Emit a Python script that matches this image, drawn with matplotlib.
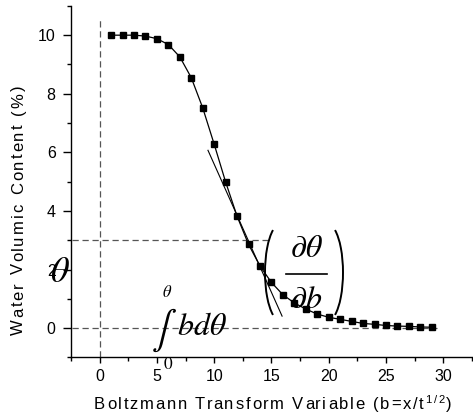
import matplotlib
matplotlib.use("Agg")
import matplotlib.pyplot as plt
from matplotlib.transforms import IdentityTransform
from matplotlib.patches import Arc
from matplotlib.lines import Line2D
import numpy as np

# ---- data ----
b_values = list(range(1, 30))
theta_values = [10.0, 10.0, 10.0, 9.97, 9.88, 9.68, 9.26, 8.55, 7.52, 6.28,
                4.99, 3.82, 2.86, 2.12, 1.56, 1.14, 0.86, 0.65, 0.48, 0.37,
                0.30, 0.23, 0.16, 0.13, 0.09, 0.07, 0.06, 0.04, 0.03]
tangent_b = [9.46, 15.93]
tangent_theta = [6.07, 0.41]
ref_theta_level = 3.0
ref_theta_end_b = 14.9
zero_line_end_b = 29.5
x_ticks = [0, 5, 10, 15, 20, 25, 30]
y_ticks = [0, 2, 4, 6, 8, 10]
x_label_parts = [("Boltzmann Transform Variable (b=x/t", 12, 0), ("1/2", 8, 6), (")", 12, 0)]
y_label_parts = [("Water Volumic Content (%)", 12, 0)]

plt.rcParams['font.family'] = ['Liberation Sans', 'DejaVu Sans']
plt.rcParams['mathtext.fontset'] = 'stix'

W, H = 473, 420
fig = plt.figure(figsize=(W / 100, H / 100), dpi=100)
ax = fig.add_axes([71 / W, 0.149, 1 - 71 / W, 0.986 - 0.149])
ax.set_xlim(-2.4, 32.6)
ax.set_ylim(-1, 11)

dash = dict(color='#555555', lw=0.9, ls=(0, (5, 3)))
ax.plot([0, 0], [-1, 10.6], **dash)
ax.plot([-2.4, zero_line_end_b], [0, 0], **dash)
ax.plot([-2.4, ref_theta_end_b], [ref_theta_level, ref_theta_level], **dash)

ax.plot(b_values, theta_values, color='black', lw=0.9, marker='s',
        markersize=5, markerfacecolor='black', markeredgecolor='black', zorder=3)
ax.plot(tangent_b, tangent_theta, color='black', lw=0.8, zorder=2)

for s in ['top', 'right']:
    ax.spines[s].set_visible(False)
for s in ['left', 'bottom']:
    ax.spines[s].set_linewidth(1.0)

ax.set_xticks(x_ticks)
ax.set_yticks(y_ticks)
ax.set_xticks(np.arange(-2.5, 33, 2.5), minor=True)
ax.set_yticks(np.arange(-1, 11.5, 1), minor=True)
ax.tick_params(axis='x', which='major', direction='out', length=4.5, width=1, labelsize=11.5, pad=3.5)
ax.tick_params(axis='y', which='major', direction='out', length=5.5, width=1, labelsize=11.5, pad=5.5)
ax.tick_params(which='minor', direction='out', length=3, width=1)

# ---- letter-spaced axis labels (drawn in pixel coordinates) ----
ident = IdentityTransform()
renderer = fig.canvas.get_renderer()


def text_w(s, fs):
    t = fig.text(0, 0, s, fontsize=fs, transform=ident)
    w = t.get_window_extent(renderer).width
    t.remove()
    return w


def spaced_label(parts, center, baseline, target_len, rotation=0):
    layout = []
    pen = 0.0
    for txt, fs, rise in parts:
        base = text_w('||', fs)
        for i, ch in enumerate(txt):
            off = text_w('|' + txt[:i] + '|', fs) - base
            layout.append([ch, fs, rise, pen + off])
        pen += text_w('|' + txt + '|', fs) - base
    n = len(layout)
    spacing = max(0.0, (target_len - pen) / (n - 1))
    total = pen + spacing * (n - 1)
    for i, item in enumerate(layout):
        item[3] += i * spacing
    start = center - total / 2
    for ch, fs, rise, pos in layout:
        if ch == ' ':
            continue
        if rotation == 0:
            fig.text(start + pos, baseline + rise, ch, fontsize=fs, transform=ident,
                     ha='left', va='baseline', color='black')
        else:
            fig.text(baseline - rise, start + pos, ch, fontsize=fs, transform=ident,
                     ha='left', va='baseline', rotation=90, rotation_mode='anchor',
                     color='black')


spaced_label(x_label_parts, center=273, baseline=H - 409, target_len=358)
spaced_label(y_label_parts, center=H - 210, baseline=23, target_len=250, rotation=90)

# ---- math annotations ----
ax.text(-3.5, 1.9, r'$\theta$', fontsize=26, ha='center', va='center', clip_on=False)

fig.text(164, H - 330, r'$\int$', fontsize=27, transform=ident, ha='center', va='center')
fig.text(167, H - 292, r'$\theta$', fontsize=12, transform=ident, ha='center', va='center')
fig.text(168, H - 364, r'$\mathrm{0}$', fontsize=12.5, transform=ident, ha='center', va='center')
fig.text(177, H - 335, r'$bd\theta$', fontsize=23, transform=ident, ha='left', va='baseline')

fig.text(306.5, H - 249, r'$\partial\theta$', fontsize=23, transform=ident, ha='center', va='center')
fig.text(306.5, H - 300, r'$\partial b$', fontsize=23, transform=ident, ha='center', va='center')
fig.add_artist(Line2D([286, 327], [H - 274.3, H - 274.3], transform=ident, color='black', lw=1.2))


def paren_arc(cx, cy, w, h, t1, t2):
    a, b = w / 2, h / 2
    ang1 = np.degrees(np.arctan2(b * np.sin(np.radians(t1)), a * np.cos(np.radians(t1)))) % 360
    ang2 = np.degrees(np.arctan2(b * np.sin(np.radians(t2)), a * np.cos(np.radians(t2)))) % 360
    fig.add_artist(Arc((cx, cy), w, h, theta1=ang1, theta2=ang2, transform=ident,
                       color='black', lw=1.4))


paren_arc(281, H - 272.5, 32, 98, 120, 240)
paren_arc(327, H - 272.5, 32, 98, -60, 60)

fig.savefig('out.png', dpi=100)
